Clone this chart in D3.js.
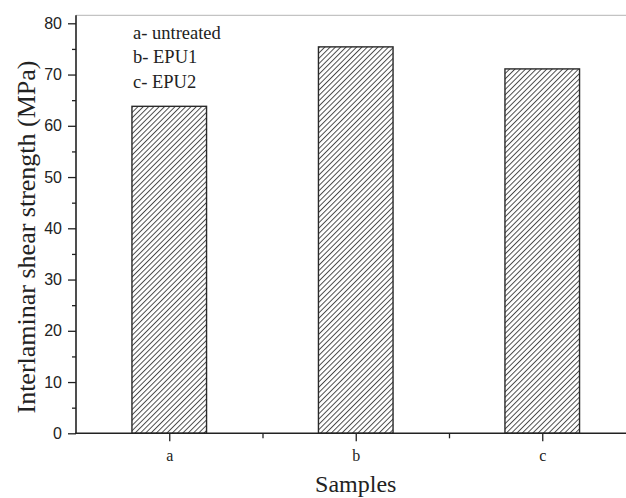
<!DOCTYPE html>
<html>
<head>
<meta charset="utf-8">
<script src="https://cdn.jsdelivr.net/npm/d3@7"></script>
<style>
  html, body { margin: 0; padding: 0; background: #fff; }
  svg { display: block; }
</style>
</head>
<body>
<svg id="chart" width="626" height="498"></svg>
<script>
// Interlaminar shear strength of the three sample groups
const categories = ["a", "b", "c"];
const strengthMPa = [63.8, 75.4, 71.1];
const legendLines = ["a- untreated", "b- EPU1", "c- EPU2"];
const yTicks = [0, 10, 20, 30, 40, 50, 60, 70, 80];

const svg = d3.select("#chart");
const W = 626, H = 498;
const plotLeft = 76, plotBottom = 433.3, plotTop = 15.3;
const step = 186.5;

// x: sample index (1..3) with half a step of margin on each side
const x = d3.scaleLinear().domain([0.5, 3.5]).range([plotLeft, plotLeft + 3 * step]);
const y = d3.scaleLinear().domain([0, 80]).range([plotBottom, 23.3]);
const barW = 0.4 * step;

// diagonal hatch fill
const defs = svg.append("defs");
const pat = defs.append("pattern")
  .attr("id", "hatch")
  .attr("patternUnits", "userSpaceOnUse")
  .attr("width", 3.75).attr("height", 3.75)
  .attr("patternTransform", "rotate(45)");
pat.append("line")
  .attr("x1", 0.5).attr("y1", 0).attr("x2", 0.5).attr("y2", 3.75)
  .attr("stroke", "#3a3a3a").attr("stroke-width", 0.9);

// top frame line
svg.append("line")
  .attr("x1", plotLeft).attr("x2", W).attr("y1", plotTop).attr("y2", plotTop)
  .attr("stroke", "#b5b5b5").attr("stroke-width", 1);

// bars
svg.append("g").selectAll("rect")
  .data(strengthMPa)
  .join("rect")
  .attr("x", (d, i) => x(i + 1) - barW / 2)
  .attr("y", d => y(d))
  .attr("width", barW)
  .attr("height", d => y(0) - y(d))
  .attr("fill", "url(#hatch)")
  .attr("stroke", "#2a2a2a")
  .attr("stroke-width", 1.4);

// y axis: major ticks with labels, minor ticks between
const yAxis = d3.axisLeft(y).tickValues(yTicks).tickSize(8).tickPadding(6).tickFormat(d3.format("d"));
const gy = svg.append("g").attr("transform", `translate(${plotLeft},0)`).call(yAxis);
gy.select(".domain").remove();
gy.selectAll(".tick line").attr("stroke", "#222").attr("stroke-width", 1.3);
gy.selectAll(".tick text")
  .attr("font-family", "Liberation Sans, Arial, sans-serif")
  .attr("font-size", 16).attr("fill", "#222");
const yMinor = d3.axisLeft(y).tickValues(d3.range(5, 80, 10)).tickSize(4).tickFormat("");
const gym = svg.append("g").attr("transform", `translate(${plotLeft},0)`).call(yMinor);
gym.select(".domain").remove();
gym.selectAll(".tick line").attr("stroke", "#222").attr("stroke-width", 1.3);
svg.append("line")
  .attr("x1", plotLeft).attr("x2", plotLeft).attr("y1", plotTop).attr("y2", plotBottom + 0.7)
  .attr("stroke", "#222").attr("stroke-width", 1.6);

// x axis
const xAxis = d3.axisBottom(x).tickValues([1, 2, 3]).tickSize(8).tickPadding(8)
  .tickFormat(d => categories[d - 1]);
const gx = svg.append("g").attr("transform", `translate(0,${plotBottom})`).call(xAxis);
gx.select(".domain").remove();
gx.selectAll(".tick line").attr("stroke", "#222").attr("stroke-width", 1.3);
gx.selectAll(".tick text")
  .attr("font-family", "Liberation Serif, Times New Roman, serif")
  .attr("font-size", 16).attr("fill", "#222");
const xMinor = d3.axisBottom(x).tickValues([1.5, 2.5]).tickSize(5).tickFormat("");
const gxm = svg.append("g").attr("transform", `translate(0,${plotBottom})`).call(xMinor);
gxm.select(".domain").remove();
gxm.selectAll(".tick line").attr("stroke", "#222").attr("stroke-width", 1.3);
svg.append("line")
  .attr("x1", plotLeft - 0.8).attr("x2", W).attr("y1", plotBottom).attr("y2", plotBottom)
  .attr("stroke", "#222").attr("stroke-width", 1.6);

// axis titles
svg.append("text")
  .attr("x", x(2)).attr("y", 492)
  .attr("text-anchor", "middle")
  .attr("font-family", "Liberation Serif, Times New Roman, serif")
  .attr("font-size", 24).attr("fill", "#222")
  .text("Samples");
svg.append("text")
  .attr("transform", "translate(35,237) rotate(-90)")
  .attr("text-anchor", "middle")
  .attr("font-family", "Liberation Serif, Times New Roman, serif")
  .attr("font-size", 26).attr("fill", "#222")
  .text("Interlaminar shear strength (MPa)");

// sample key
svg.append("g").selectAll("text")
  .data(legendLines)
  .join("text")
  .attr("x", 133).attr("y", (d, i) => 38.5 + i * 24.7)
  .attr("font-family", "Liberation Serif, Times New Roman, serif")
  .attr("font-size", 18.5).attr("fill", "#222")
  .text(d => d);
</script>
</body>
</html>
